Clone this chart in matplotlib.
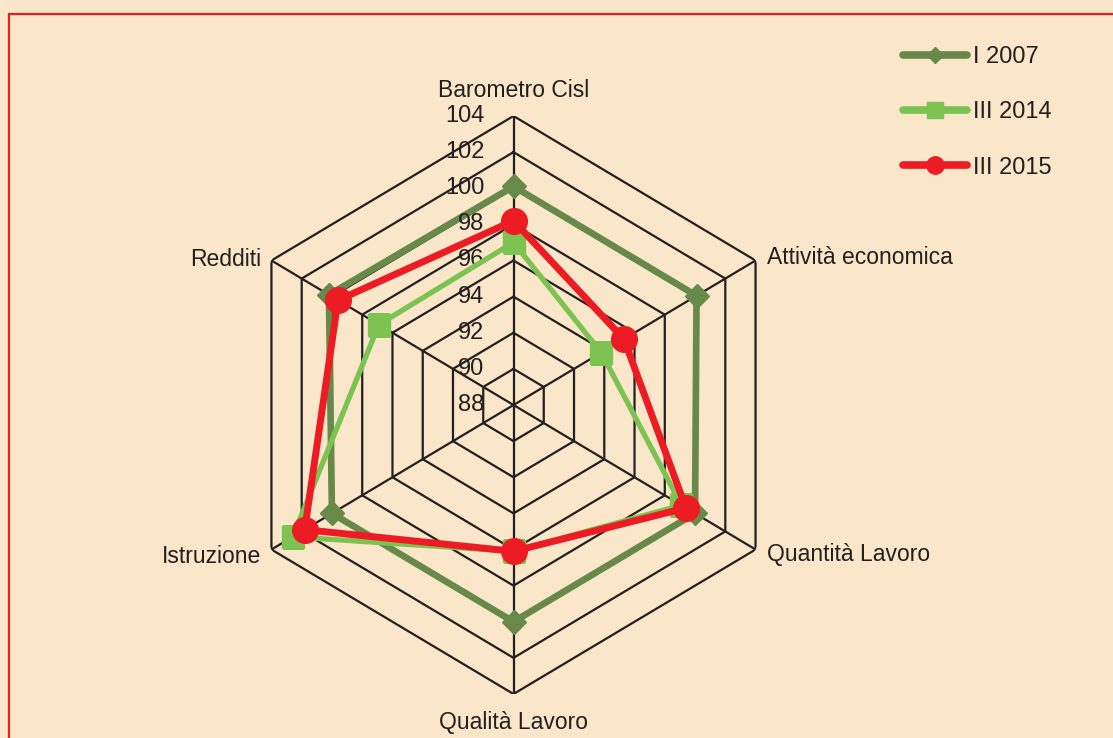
import matplotlib
matplotlib.use("Agg")
import matplotlib.pyplot as plt
import numpy as np
from matplotlib.lines import Line2D
from matplotlib.patches import Rectangle

# data
categories = ["Barometro Cisl", "Attività economica", "Quantità Lavoro",
              "Qualità Lavoro", "Istruzione", "Redditi"]
series_names = ["I 2007", "III 2014", "III 2015"]
values_2007 = [100.1, 100.1, 100.0, 100.0, 100.0, 100.2]
values_2014 = [97.0, 93.8, 99.1, 96.1, 102.6, 96.9]
values_2015 = [98.2, 95.3, 99.4, 96.1, 101.8, 99.6]
ring_levels = [88, 90, 92, 94, 96, 98, 100, 102, 104]

BG = "#FAE6C9"
INK = "#231F20"
DARK_GREEN = "#678A4B"
LIGHT_GREEN = "#7DC352"
RED = "#ED1C24"

plt.rcParams["font.family"] = ["Liberation Sans", "DejaVu Sans"]

W, H = 1113, 738
fig = plt.figure(figsize=(W / 100, H / 100), dpi=100, facecolor=BG)

# axes box: centre (513.5, 405) px, slightly taller than wide like the source
cx, cy, rx, ry = 513.5, 405, 279.5, 289
ax = fig.add_axes([(cx - rx) / W, (H - cy - ry) / H, 2 * rx / W, 2 * ry / H],
                  projection="polar")
ax.set_aspect("auto")
ax.set_theta_zero_location("N")
ax.set_theta_direction(-1)
ax.set_ylim(ring_levels[0], ring_levels[-1])
ax.grid(False)
ax.set_xticks([])
ax.set_yticks([])
ax.spines["polar"].set_visible(False)
ax.patch.set_alpha(0)

n = len(categories)
angles = np.arange(n) * 2 * np.pi / n
closed = np.append(angles, angles[0])

# hexagonal grid
for lvl in ring_levels[1:]:
    ax.plot(closed, [lvl] * (n + 1), color=INK, lw=1.6, zorder=1)
for a in angles:
    ax.plot([a, a], [ring_levels[0], ring_levels[-1]], color=INK, lw=1.6, zorder=1)

# series
styles = [
    (values_2007, DARK_GREEN, "D", 12.5, 4.8),
    (values_2014, LIGHT_GREEN, "s", 16.5, 3.8),
    (values_2015, RED, "o", 18.5, 5.0),
]
for i, (vals, col, mk, ms, lw) in enumerate(styles):
    v = np.append(vals, vals[0])
    ax.plot(closed, v, color=col, lw=lw, zorder=3 + i, solid_joinstyle="miter")
    ax.plot(angles, vals, ls="none", marker=mk, ms=ms, color=col, mec=col, zorder=3 + i)

# radial tick labels along the top spoke
for lvl in ring_levels:
    ax.annotate(str(lvl), xy=(0, lvl), xytext=(-29, 0), textcoords="offset pixels",
                ha="right", va="center", fontsize=17, color=INK)

# category labels
label_pos = [
    ((0, 19), "center", "baseline"),
    ((11, -3), "left", "baseline"),
    ((11, -11), "left", "baseline"),
    ((0, -35), "center", "baseline"),
    ((-10, -13), "right", "baseline"),
    ((-10, -5), "right", "baseline"),
]
for a, name, (off, ha, va) in zip(angles, categories, label_pos):
    ax.annotate(name, xy=(a, ring_levels[-1]), xytext=off, textcoords="offset pixels",
                ha=ha, va=va, fontsize=16.5, color=INK, annotation_clip=False)

# legend with smaller markers than the chart
handles = [
    Line2D([], [], color=DARK_GREEN, lw=5.5, marker="D", ms=8, solid_capstyle="round"),
    Line2D([], [], color=LIGHT_GREEN, lw=5.5, marker="s", ms=11, solid_capstyle="round"),
    Line2D([], [], color=RED, lw=5.5, marker="o", ms=12.5, solid_capstyle="round"),
]
fig.legend(handles, series_names, loc="upper left", bbox_to_anchor=(903 / W, 1 - 46 / H),
           frameon=False, fontsize=17, handlelength=2.72, handletextpad=0.25,
           labelspacing=1.41, borderpad=0, borderaxespad=0, labelcolor=INK)

# red frame, cropped at the right and bottom like the source
fig.add_artist(Rectangle((8.5 / W, -0.1), 2.0, (H - 14) / H + 0.1, transform=fig.transFigure,
                         fill=False, edgecolor=RED, lw=1.6, clip_on=False))

fig.savefig("out.png", dpi=100, facecolor=BG)
